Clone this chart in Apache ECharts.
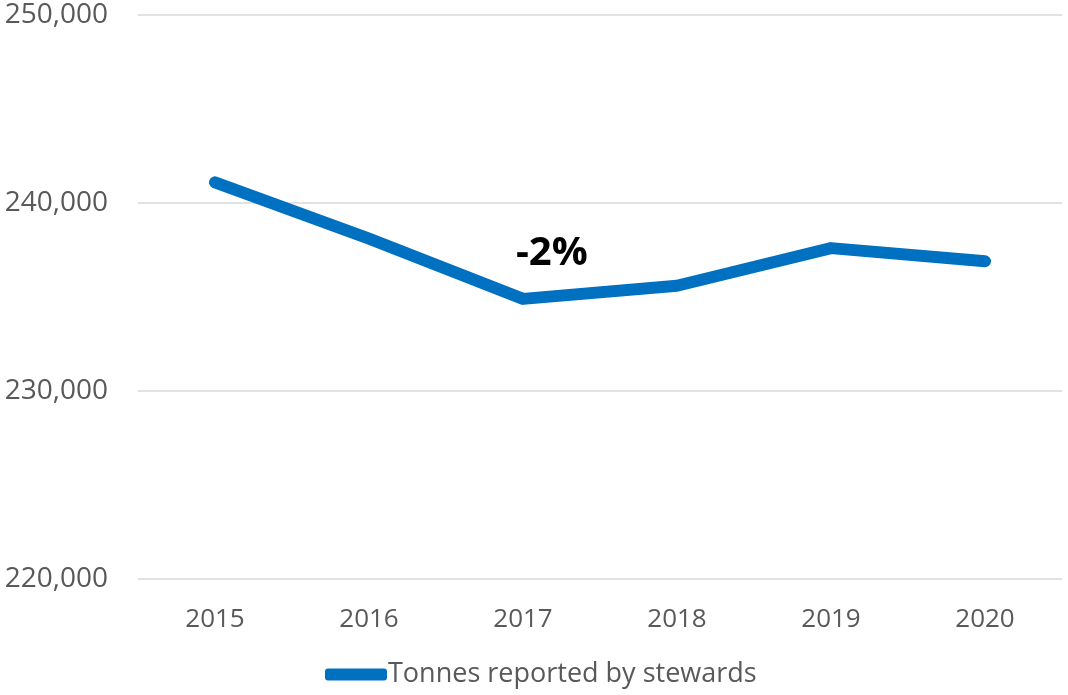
<!DOCTYPE html>
<html>
<head>
<meta charset="utf-8">
<script src="https://cdn.jsdelivr.net/npm/echarts@6/dist/echarts.min.js"></script>
<style>
  html, body { margin: 0; padding: 0; background: #fff; }
  #chart { width: 1068px; height: 695px; }
</style>
</head>
<body>
<div id="chart"></div>
<script>
// data
const years = ['2015', '2016', '2017', '2018', '2019', '2020']
const tonnes = [241100, 238100, 234900, 235600, 237600, 236900]
const seriesName = 'Tonnes reported by stewards'
const changeLabel = '-2%'

const myChart = echarts.init(document.getElementById('chart'))
const font = '"Open Sans", sans-serif'

const options = {
    animation: false,
    grid: {
        left: 138,
        right: 6,
        top: 15,
        bottom: 116
    },
    legend: {
        bottom: 2,
        left: 320,
        icon: 'roundRect',
        itemWidth: 62,
        itemHeight: 12,
        itemGap: 10,
        textStyle: {
            color: '#595959',
            fontSize: 27,
            fontFamily: font,
            padding: [0, 0, 0, -4]
        },
        data: [seriesName]
    },
    xAxis: {
        type: 'category',
        data: years,
        boundaryGap: true,
        axisLine: { show: false },
        axisTick: { show: false },
        axisLabel: {
            color: '#595959',
            fontSize: 26,
            fontFamily: font,
            margin: 28
        }
    },
    yAxis: {
        type: 'value',
        min: 220000,
        max: 250000,
        interval: 10000,
        axisLine: { show: false },
        axisTick: { show: false },
        splitLine: {
            lineStyle: { color: '#d9d9d9', width: 1.5 }
        },
        axisLabel: {
            color: '#595959',
            fontSize: 28,
            fontFamily: font,
            margin: 30,
            formatter: function (v) {
                return v.toLocaleString('en-US')
            }
        }
    },
    series: [
        {
            type: 'line',
            name: seriesName,
            data: tonnes,
            showSymbol: false,
            symbol: 'none',
            lineStyle: {
                color: '#0070c0',
                width: 12,
                cap: 'round',
                join: 'round'
            },
            itemStyle: { color: '#0070c0' }
        }
    ],
    graphic: [
        {
            type: 'text',
            left: 516,
            top: 234,
            style: {
                text: changeLabel,
                fill: '#000',
                font: 'bold 40px ' + font
            }
        }
    ]
}
myChart.setOption(options)
</script>
</body>
</html>
